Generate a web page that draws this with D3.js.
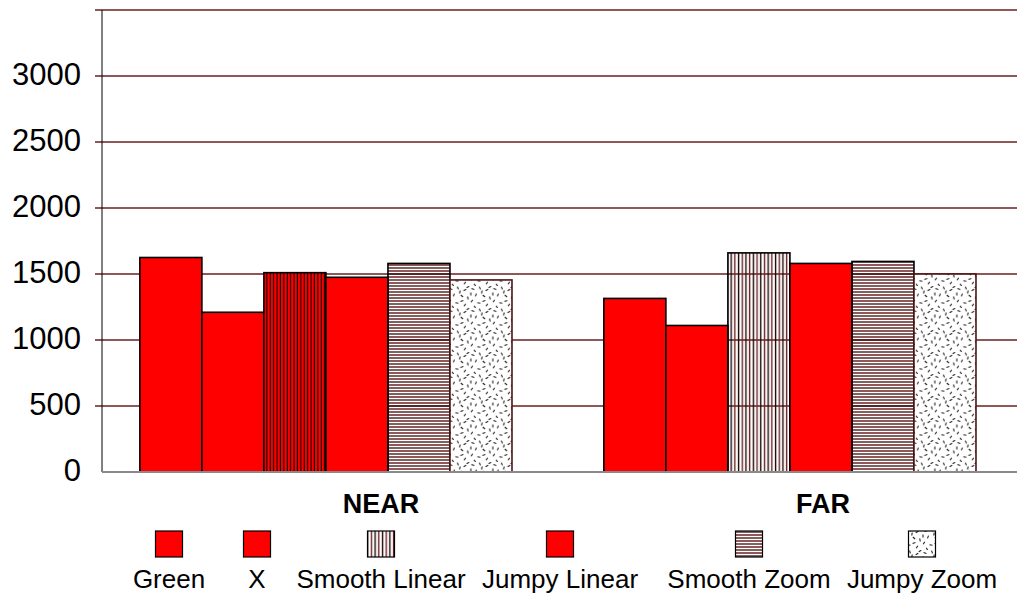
<!DOCTYPE html>
<html>
<head>
<meta charset="utf-8">
<script src="https://d3js.org/d3.v7.min.js"></script>
<style>
  body { margin: 0; background: #fff; }
  text { font-family: "Liberation Sans", Arial, Helvetica, sans-serif; fill: #000; }
</style>
</head>
<body>
<div id="chart"></div>
<script>
// data
var groups = ["NEAR", "FAR"];
var series = ["Green", "X", "Smooth Linear", "Jumpy Linear", "Smooth Zoom", "Jumpy Zoom"];
var nearValues = [1625, 1210, 1510, 1475, 1580, 1455];
var farValues = [1315, 1110, 1660, 1580, 1595, 1500];
var yTickLabels = [0, 500, 1000, 1500, 2000, 2500, 3000];
var yGridValues = [500, 1000, 1500, 2000, 2500, 3000, 3500];

// SVG area
var svgWidth = 1017;
var svgHeight = 598;

var plot = { left: 102, right: 1017, top: 10, bottom: 472 };

var maroon = "#6a2020";

var svg = d3.select("#chart")
  .append("svg")
  .attr("width", svgWidth)
  .attr("height", svgHeight);

// patterns
var defs = svg.append("defs");

// vertical stripes (no background so gridlines show through)
var vl = defs.append("pattern")
  .attr("id", "vlines")
  .attr("patternUnits", "userSpaceOnUse")
  .attr("width", 7.4).attr("height", 10);
vl.append("line").attr("x1", 1.5).attr("x2", 1.5).attr("y1", 0).attr("y2", 10)
  .attr("stroke", "#1a0505").attr("stroke-width", 1.4);
vl.append("line").attr("x1", 5.2).attr("x2", 5.2).attr("y1", 0).attr("y2", 10)
  .attr("stroke", maroon).attr("stroke-width", 1.4);

// the NEAR smooth linear bar is red with black stripes
var vr = defs.append("pattern")
  .attr("id", "vlinesRed")
  .attr("patternUnits", "userSpaceOnUse")
  .attr("width", 3.4).attr("height", 10);
vr.append("rect").attr("width", 3.4).attr("height", 10).attr("fill", "#ff0000");
vr.append("line").attr("x1", 1.2).attr("x2", 1.2).attr("y1", 0).attr("y2", 10)
  .attr("stroke", "#000").attr("stroke-width", 1.1);

// horizontal stripes
var hl = defs.append("pattern")
  .attr("id", "hlines")
  .attr("patternUnits", "userSpaceOnUse")
  .attr("width", 10).attr("height", 6);
hl.append("line").attr("x1", 0).attr("x2", 10).attr("y1", 1).attr("y2", 1)
  .attr("stroke", maroon).attr("stroke-width", 1.5);
hl.append("line").attr("x1", 0).attr("x2", 10).attr("y1", 4).attr("y2", 4)
  .attr("stroke", "#3a0a0a").attr("stroke-width", 1.3);

// speckle: short dashes on white
var speck = defs.append("pattern")
  .attr("id", "speckle")
  .attr("patternUnits", "userSpaceOnUse")
  .attr("width", 22).attr("height", 22);
speck.append("rect").attr("width", 22).attr("height", 22).attr("fill", "#fff");
var dashes = [[3, 3, 20], [10, 2, 70], [17, 4, -30], [6, 9, 110], [14, 10, 40],
  [20, 12, 80], [2, 15, -60], [9, 17, 10], [17, 19, 120], [12, 6, -80],
  [5, 21, 60], [20, 1, 150], [1, 8, 90], [14, 15, -20]];
speck.selectAll("line")
  .data(dashes)
  .enter()
  .append("line")
  .attr("x1", d => d[0] - 1.5 * Math.cos(d[2] * Math.PI / 180))
  .attr("y1", d => d[1] - 1.5 * Math.sin(d[2] * Math.PI / 180))
  .attr("x2", d => d[0] + 1.5 * Math.cos(d[2] * Math.PI / 180))
  .attr("y2", d => d[1] + 1.5 * Math.sin(d[2] * Math.PI / 180))
  .attr("stroke", "#222")
  .attr("stroke-width", 1.1);

// fills and borders per series
function barFill(s, g) {
  if (s == "Smooth Linear") return g == "NEAR" ? "url(#vlinesRed)" : "url(#vlines)";
  if (s == "Smooth Zoom") return "url(#hlines)";
  if (s == "Jumpy Zoom") return "url(#speckle)";
  return "#ff0000";
}
function barStroke(s) {
  return s == "Jumpy Zoom" ? "#4a1515" : "#000";
}
function legendFill(s) {
  return barFill(s, "FAR");
}

// scales
var x0 = d3.scaleBand()
  .domain(groups)
  .range([plot.left, plot.right])
  .paddingInner(0.198)
  .paddingOuter(0.085)
  .align(0.48);

var x1 = d3.scaleBand()
  .domain(series)
  .range([0, x0.bandwidth()]);

var y = d3.scaleLinear()
  .domain([0, 3500])
  .range([plot.bottom, plot.top]);

// category labels sit a little right of the group centres
var xLabel = d3.scaleBand()
  .domain(groups)
  .range([160, 1044]);

// gridlines
svg.append("g")
  .selectAll("line")
  .data(yGridValues)
  .enter()
  .append("line")
  .attr("x1", plot.left - 7)
  .attr("x2", plot.right)
  .attr("y1", d => y(d))
  .attr("y2", d => y(d))
  .attr("stroke", maroon)
  .attr("stroke-width", 1.7);

// bars
var table = groups.map(function(g, i) {
  var vals = i == 0 ? nearValues : farValues;
  return { group: g, bars: series.map((s, j) => ({ group: g, series: s, value: vals[j] })) };
});

svg.append("g")
  .selectAll("g")
  .data(table)
  .enter()
  .append("g")
  .attr("transform", d => `translate(${x0(d.group)},0)`)
  .selectAll("rect")
  .data(d => d.bars)
  .enter()
  .append("rect")
  .attr("x", d => x1(d.series))
  .attr("y", d => y(d.value))
  .attr("width", x1.bandwidth())
  .attr("height", d => y(0) - y(d.value))
  .attr("fill", d => barFill(d.series, d.group))
  .attr("stroke", d => barStroke(d.series))
  .attr("stroke-width", 1.6);

// left axis line and baseline
svg.append("line")
  .attr("x1", plot.left).attr("x2", plot.left)
  .attr("y1", plot.top).attr("y2", plot.bottom)
  .attr("stroke", "#000").attr("stroke-width", 1);

svg.append("line")
  .attr("x1", plot.left).attr("x2", plot.right)
  .attr("y1", y(0)).attr("y2", y(0))
  .attr("stroke", "#8a8a8a").attr("stroke-width", 2);

// y tick labels
svg.append("g")
  .selectAll("text")
  .data(yTickLabels)
  .enter()
  .append("text")
  .attr("x", 81)
  .attr("y", d => y(d))
  .attr("dy", "0.28em")
  .attr("text-anchor", "end")
  .style("font-size", "31px")
  .text(d => d);

// category labels
svg.append("g")
  .selectAll("text")
  .data(groups)
  .enter()
  .append("text")
  .attr("x", d => xLabel(d) + xLabel.bandwidth() / 2)
  .attr("y", 513)
  .attr("text-anchor", "middle")
  .style("font-size", "27px")
  .style("font-weight", "bold")
  .text(d => d);

// legend
var legendCenters = [169, 257, 381, 560, 749, 922];
var legend = svg.append("g")
  .selectAll("g")
  .data(series)
  .enter()
  .append("g")
  .attr("transform", (d, i) => `translate(${legendCenters[i]},0)`);

legend.append("rect")
  .attr("x", -13.5)
  .attr("y", 531)
  .attr("width", 27)
  .attr("height", 26)
  .attr("fill", d => legendFill(d))
  .attr("stroke", "#000")
  .attr("stroke-width", 1.2);

legend.append("text")
  .attr("y", 588)
  .attr("text-anchor", "middle")
  .style("font-size", "26px")
  .text(d => d);
</script>
</body>
</html>
